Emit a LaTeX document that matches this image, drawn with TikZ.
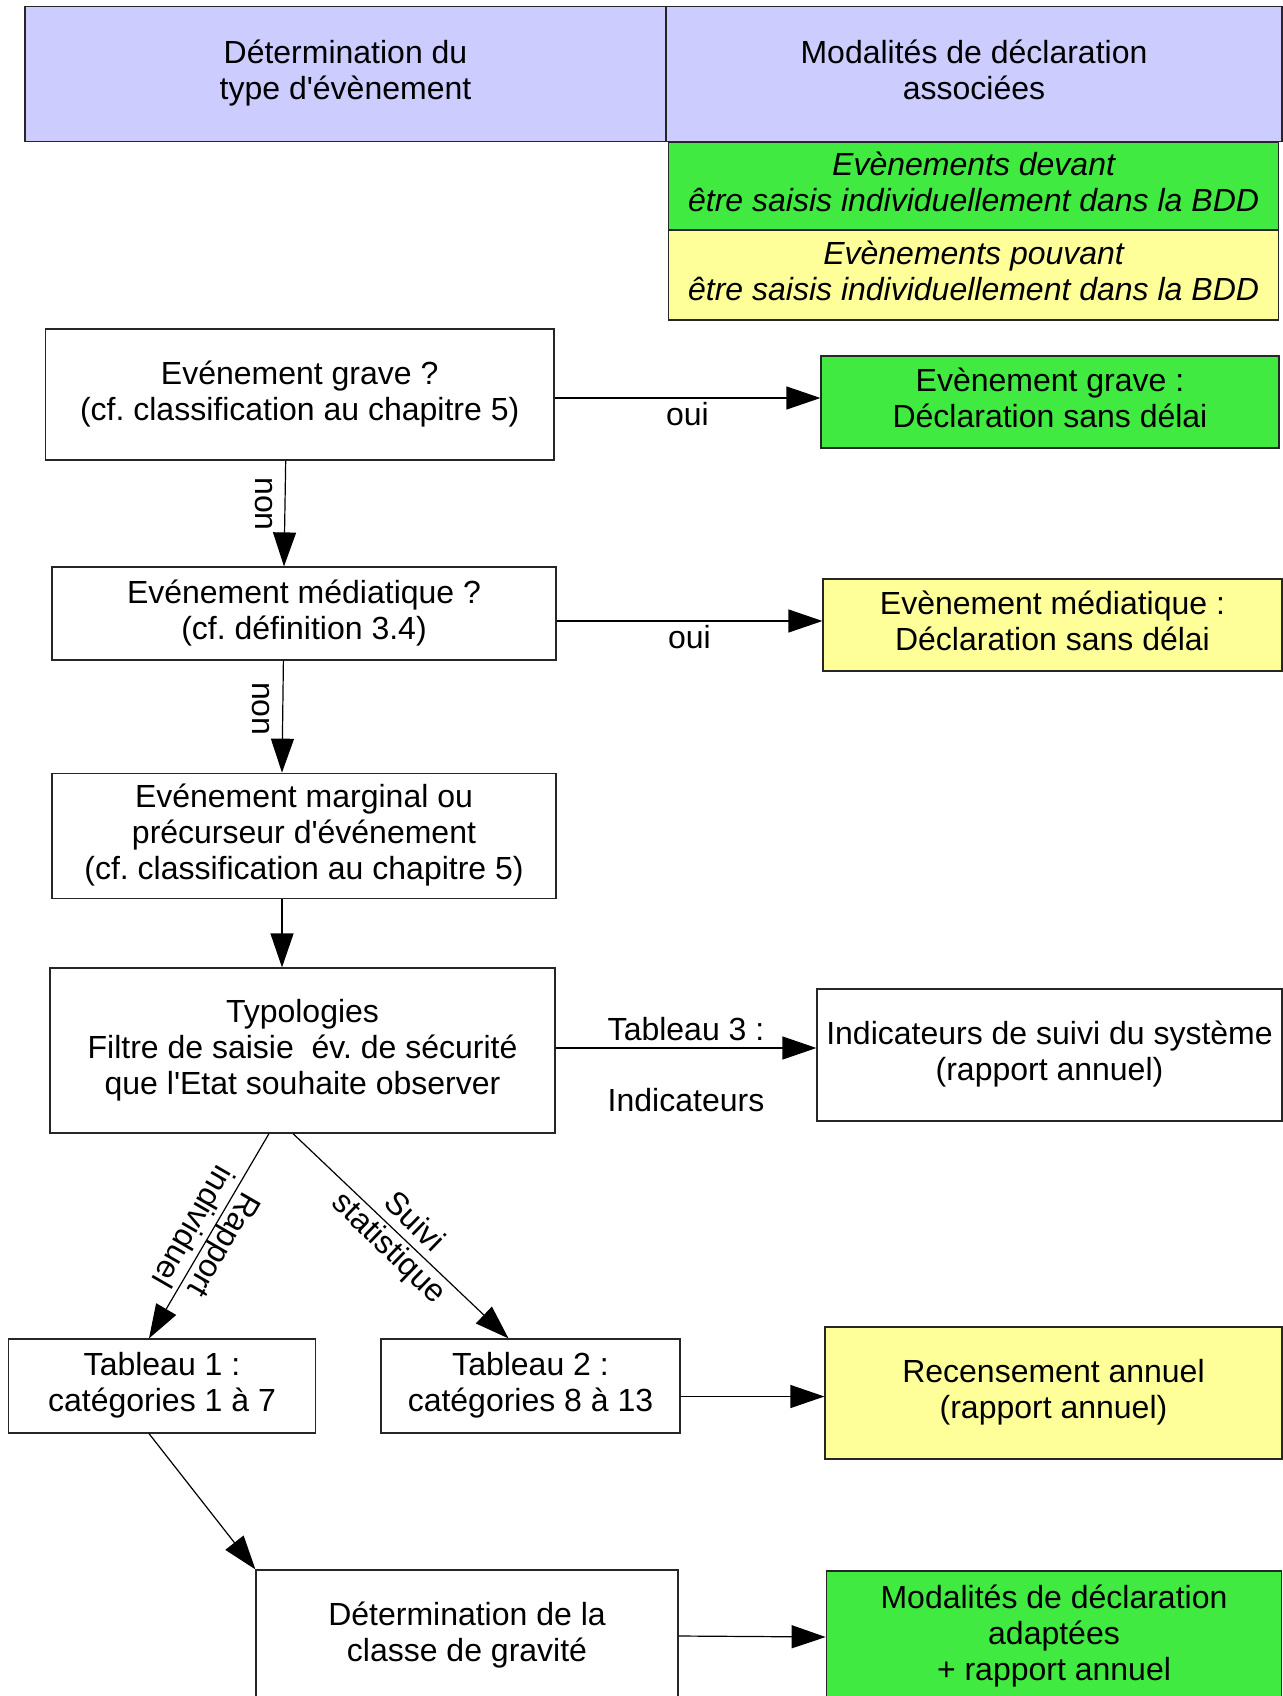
\documentclass[tikz,border=0pt]{standalone}
\usepackage{fontspec}
\setmainfont{Liberation Sans}[Ligatures=TeXOff]
\frenchspacing
\usetikzlibrary{arrows.meta}

\begin{document}
\begin{tikzpicture}[
x=0.5pt, y=-0.5pt,
font=\fontsize{16}{18}\selectfont,
box/.style={draw=black!85, line width=0.6pt, align=center, inner sep=0pt,
  execute at begin node={\rule{0pt}{18.5pt}}, execute at end node={\rule[-4pt]{0pt}{4pt}}},
header/.style={box, fill=lavender},
must/.style={box, fill=greenbox},
may/.style={box, fill=yellowbox},
note/.style={font=\fontsize{16}{18}\selectfont\itshape},
flow/.style={line width=0.6pt, -{Triangle[length=17pt,width=11.5pt]}},
lbl/.style={align=center, inner sep=3.5pt}]

\definecolor{lavender}{RGB}{204,204,255}
\definecolor{greenbox}{RGB}{64,234,64}
\definecolor{yellowbox}{RGB}{255,255,153}

\useasboundingbox (0,0) rectangle (1283,1696);
\clip (0,0) rectangle (1283,1696);

% headers and legend
\node[header, minimum width=320.5pt, minimum height=67.75pt] (hdrType) at (345.5,74) {Détermination du\\type d'évènement};
\node[header, minimum width=308pt, minimum height=67.75pt] (hdrDecl) at (974,74) {Modalités de déclaration\\associées};
\node[must, note, minimum width=305pt, minimum height=44pt] (legMust) at (973.6,186) {Evènements devant\\être saisis individuellement dans la BDD};
\node[may, note, minimum width=305pt, minimum height=45pt] (legMay) at (973.6,275) {Evènements pouvant\\être saisis individuellement dans la BDD};

% questions
\node[box, minimum width=254.3pt, minimum height=65.5pt] (qGrave) at (299.7,394.5) {Evénement grave ?\\(cf. classification au chapitre 5)};
\node[must, minimum width=229pt, minimum height=46pt] (dGrave) at (1050,402) {Evènement grave :\\Déclaration sans délai};
\node[box, minimum width=252pt, minimum height=46.5pt] (qMedia) at (304,613.5) {Evénement médiatique ?\\(cf. définition 3.4)};
\node[may, minimum width=229.5pt, minimum height=46pt] (dMedia) at (1052.5,625) {Evènement médiatique :\\Déclaration sans délai};
\node[box, minimum width=252pt, minimum height=62.75pt] (qMarg) at (304,836) {Evénement marginal ou\\précurseur d'événement\\(cf. classification au chapitre 5)};
\node[box, minimum width=252.5pt, minimum height=82.5pt] (typo) at (302.5,1050.5) {Typologies\\Filtre de saisie\ \ év. de sécurité\\que l'Etat souhaite observer};
\node[box, minimum width=232.5pt, minimum height=66pt] (indic) at (1049.5,1055) {Indicateurs de suivi du système\\(rapport annuel)};

% tables
\node[box, minimum width=153.5pt, minimum height=47pt] (tabOne) at (162,1386) {Tableau 1 :\\catégories 1 à 7};
\node[box, minimum width=149.5pt, minimum height=47pt] (tabTwo) at (530.5,1386) {Tableau 2 :\\catégories 8 à 13};
\node[may, minimum width=228.5pt, minimum height=66pt] (recens) at (1053.5,1393) {Recensement annuel\\(rapport annuel)};
\node[box, minimum width=211pt, minimum height=66pt] (classe) at (467,1636) {Détermination de la\\classe de gravité};
\node[must, minimum width=227.75pt, minimum height=66pt] (adapt) at (1054,1637) {Modalités de déclaration\\adaptées\\+ rapport annuel};

% connectors
\draw[flow] ([yshift=-1.75pt]qGrave.east) -- node[below, lbl, inner sep=2pt] {oui} ([yshift=-1.75pt]qGrave.east -| dGrave.west);
\draw[flow] ([yshift=-3.75pt]qMedia.east) -- node[below, lbl, inner sep=2pt] {oui} ([yshift=-3.75pt]qMedia.east -| dMedia.west);
\draw[flow] ([xshift=-7pt]qGrave.south) -- node[pos=0.41, rotate=-90, anchor=north, inner sep=6pt] {non} ([xshift=-10pt]qMedia.north);
\draw[flow] ([xshift=-10.3pt]qMedia.south) -- node[pos=0.43, rotate=-90, anchor=north, inner sep=6pt] {non} ([xshift=-11pt]qMarg.north);
\draw[flow] ([xshift=-11pt]qMarg.south) -- ([xshift=-10.25pt]typo.north);
\draw[flow] ([yshift=1.25pt]typo.east) -- node[above, lbl] {Tableau 3 :} node[below=16.5pt, lbl] {Indicateurs} ([yshift=1.25pt]typo.east -| indic.west);
\draw[flow] ([xshift=-16.75pt]typo.south) -- node[rotate=-120, lbl, inner sep=0pt] {Rapport\\individuel} ([xshift=-6.5pt]tabOne.north);
\draw[flow] ([xshift=-4.75pt]typo.south) -- node[rotate=-44, lbl, inner sep=0pt] {Suivi\\statistique} ([xshift=-11pt]tabTwo.north);
\draw[flow] ([yshift=-5.25pt]tabTwo.east) -- ([yshift=-5.25pt]tabTwo.east -| recens.west);
\draw[flow] ([xshift=-6.5pt]tabOne.south) -- (classe.north west);
\draw[flow] (classe.east) -- (adapt.west);

\end{tikzpicture}
\end{document}
